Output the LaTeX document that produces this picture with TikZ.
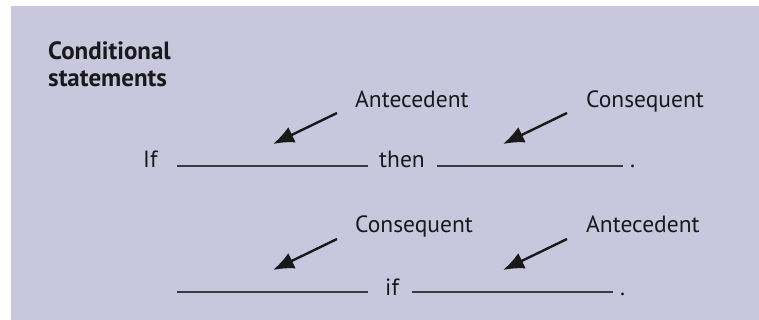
\documentclass[tikz,border=0pt]{standalone}
\usepackage{fontspec}
\setmainfont{PT Sans}
\usetikzlibrary{arrows.meta}
\definecolor{bgc}{HTML}{C9C7DE}
\definecolor{rulec}{HTML}{3A3A40}
\begin{document}
\begin{tikzpicture}[x=1pt,y=-1pt,
  lbl/.style={anchor=base west,inner sep=0pt,font=\fontsize{23.5}{28}\selectfont,text=black!90},
  ttl/.style={anchor=base west,inner sep=0pt,font=\fontsize{25}{27}\selectfont\bfseries,text=black!90,align=left},
  blank/.style={draw=rulec,line width=1.3pt},
  ptr/.style={draw=black!90,line width=2.4pt,-{Latex[length=21pt,width=17pt]}}]
\useasboundingbox (0,0) rectangle (759,320);
\fill[bgc] (11,6) rectangle (759,320);
\node[ttl] (title1) at (48,60) {Conditional};
\node[ttl] (title2) at (48,87) {statements};
% row 1
\node[lbl] (if1) at (143,168) {If};
\coordinate (b1s) at (177,166); \coordinate (b1e) at (368,166);
\draw[blank] (b1s) -- (b1e);
\node[lbl] (then) at (379,168) {then};
\coordinate (b2s) at (437,166); \coordinate (b2e) at (623,166);
\draw[blank] (b2s) -- (b2e);
\node[lbl] (dot1) at (630,168) {.};
\node[lbl] (ant1) at (355,108) {Antecedent};
\node[lbl] (con1) at (586,108) {Consequent};
\coordinate (a1s) at (337,113); \coordinate (a1t) at (273,144);
\coordinate (a2s) at (567,113); \coordinate (a2t) at (503,144);
\draw[ptr] (a1s) -- (a1t);
\draw[ptr] (a2s) -- (a2t);
% row 2
\coordinate (b3s) at (177,292); \coordinate (b3e) at (368,292);
\draw[blank] (b3s) -- (b3e);
\node[lbl] (if2) at (385,295) {if};
\coordinate (b4s) at (412,292); \coordinate (b4e) at (613,292);
\draw[blank] (b4s) -- (b4e);
\node[lbl] (dot2) at (620,295) {.};
\node[lbl] (con2) at (355,232) {Consequent};
\node[lbl] (ant2) at (586,232) {Antecedent};
\coordinate (a3s) at (337,239); \coordinate (a3t) at (273,270);
\coordinate (a4s) at (567,239); \coordinate (a4t) at (503,270);
\draw[ptr] (a3s) -- (a3t);
\draw[ptr] (a4s) -- (a4t);
\end{tikzpicture}
\end{document}
